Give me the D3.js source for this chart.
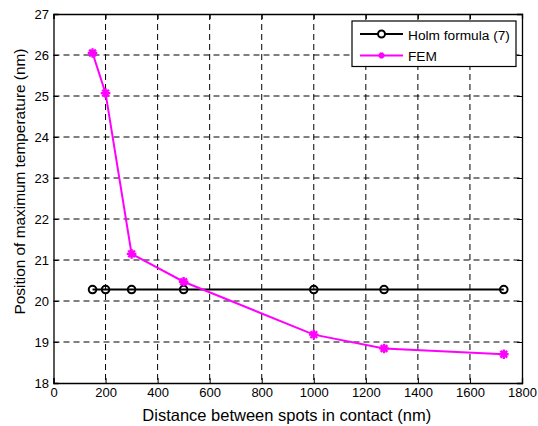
<!DOCTYPE html>
<html><head><meta charset="utf-8">
<script src="https://cdn.jsdelivr.net/npm/d3@7"></script>
<style>
body{margin:0;background:#fff;}
text{font-family:"Liberation Sans",Arial,sans-serif;}
</style></head>
<body><svg id="c" width="538" height="426"></svg>
<script>
const distances = [150, 200, 300, 500, 1000, 1270, 1730];
const holmValues = [20.28, 20.28, 20.28, 20.28, 20.28, 20.28, 20.28];
const femValues = [26.05, 25.07, 21.15, 20.47, 19.18, 18.84, 18.70];
const xTicks = [0,200,400,600,800,1000,1200,1400,1600,1800];
const yTicks = [18,19,20,21,22,23,24,25,26,27];
const seriesNames = ["Holm formula (7)", "FEM"];

const svg = d3.select("#c");
const L=53.5, R=522, T=14, B=383;
const x = d3.scaleLinear().domain([0,1800]).range([L,R]);
const y = d3.scaleLinear().domain([18,27]).range([B,T]);

svg.append("rect").attr("x",0).attr("y",0).attr("width",538).attr("height",426).attr("fill","#fff");

// grid
const g = svg.append("g");
g.selectAll(".vg").data(xTicks.slice(1,-1)).enter().append("line")
 .attr("x1",d=>x(d)).attr("x2",d=>x(d)).attr("y1",T).attr("y2",B)
 .attr("stroke","#000").attr("stroke-width",1).attr("stroke-dasharray","6,4");
g.selectAll(".hg").data(yTicks.slice(1,-1)).enter().append("line")
 .attr("y1",d=>y(d)).attr("y2",d=>y(d)).attr("x1",L).attr("x2",R)
 .attr("stroke","#000").attr("stroke-width",1).attr("stroke-dasharray","6,4");

// axes
const ax = svg.append("g").attr("transform",`translate(0,${B})`)
 .call(d3.axisBottom(x).tickValues(xTicks).tickSize(-5).tickPadding(5).tickFormat(d3.format("d")));
const ay = svg.append("g").attr("transform",`translate(${L},0)`)
 .call(d3.axisLeft(y).tickValues(yTicks).tickSize(-5).tickPadding(4.5).tickFormat(d3.format("d")));
const at = svg.append("g").attr("transform",`translate(0,${T})`)
 .call(d3.axisTop(x).tickValues(xTicks).tickSize(-5).tickFormat(""));
const ar = svg.append("g").attr("transform",`translate(${R},0)`)
 .call(d3.axisRight(y).tickValues(yTicks).tickSize(-5).tickFormat(""));
[ax,ay,at,ar].forEach(a=>{
  a.selectAll("path").attr("stroke","#000").attr("stroke-width",1.3);
  a.selectAll("line").attr("stroke","#000");
  a.selectAll("text").attr("fill","#000").style("font-size","13px").style("font-family","Liberation Sans, Arial, sans-serif");
});

// lines
const line = d3.line().x(d=>x(d[0])).y(d=>y(d[1]));
const holm = distances.map((d,i)=>[d,holmValues[i]]);
const fem = distances.map((d,i)=>[d,femValues[i]]);
svg.append("path").datum(holm).attr("d",line).attr("fill","none").attr("stroke","#000").attr("stroke-width",2);
svg.append("path").datum(fem).attr("d",line).attr("fill","none").attr("stroke","#ff00ff").attr("stroke-width",2);

function star(sel, cx, cy, s){
  const gg = sel.append("g").attr("transform",`translate(${cx},${cy})`);
  gg.append("path").attr("d",`M${-s},0L${s},0M0,${-s}L0,${s}M${-s*0.7},${-s*0.7}L${s*0.7},${s*0.7}M${-s*0.7},${s*0.7}L${s*0.7},${-s*0.7}`)
    .attr("stroke","#ff00ff").attr("stroke-width",2.4).attr("fill","none");
}
svg.selectAll(".hm").data(holm).enter().append("circle")
 .attr("cx",d=>x(d[0])).attr("cy",d=>y(d[1])).attr("r",3.8)
 .attr("fill","none").attr("stroke","#000").attr("stroke-width",2);
fem.forEach(d=>star(svg, x(d[0]), y(d[1]), 4.8));

// legend
const lg = svg.append("g");
lg.append("rect").attr("x",352).attr("y",21).attr("width",164).attr("height",45.5)
 .attr("fill","#fff").attr("stroke","#000").attr("stroke-width",1.2);
lg.append("line").attr("x1",360).attr("x2",403).attr("y1",34).attr("y2",34).attr("stroke","#000").attr("stroke-width",2);
lg.append("circle").attr("cx",381.5).attr("cy",34).attr("r",3.5).attr("fill","#fff").attr("stroke","#000").attr("stroke-width",2);
lg.append("text").attr("x",408).attr("y",39.5).text(seriesNames[0]).style("font-size","13.7px");
lg.append("line").attr("x1",360).attr("x2",403).attr("y1",55.5).attr("y2",55.5).attr("stroke","#ff00ff").attr("stroke-width",2);
star(lg, 381.5, 55.5, 3);
lg.append("text").attr("x",408).attr("y",60.5).text(seriesNames[1]).style("font-size","13.7px");

// labels
svg.append("text").attr("x",(L+R)/2 - 1).attr("y",420.5).attr("text-anchor","middle")
 .style("font-size","16.5px").text("Distance between spots in contact (nm)");
svg.append("text").attr("transform",`translate(25,181.5) rotate(-90)`).attr("text-anchor","middle")
 .style("font-size","15.4px").text("Position of maximum temperature (nm)");
</script></body></html>
